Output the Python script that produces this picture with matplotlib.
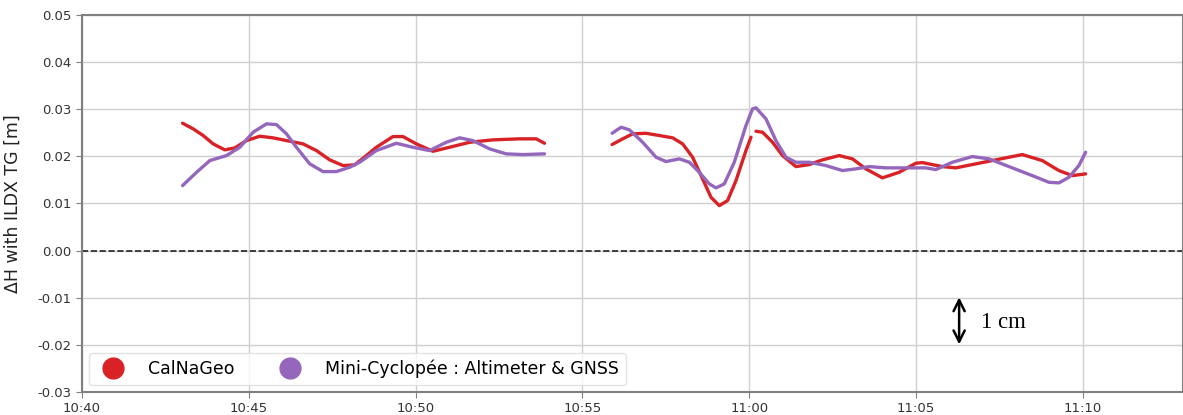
import matplotlib
matplotlib.use('Agg')
import matplotlib.pyplot as plt
import matplotlib.dates as mdates
from matplotlib.lines import Line2D
import pandas as pd
import numpy as np

# minutes after 10:40, height difference [m]; NaN marks a data gap
cal_t = [3.015, 3.332, 3.632, 3.931, 4.281, 4.581, 4.931, 5.329, 5.728, 6.129, 6.626, 7.027,
         7.425, 7.823, 8.174, 8.524, 8.823, 9.320, 9.620, 10.021, 10.518, 11.018, 11.617,
         12.314, 13.114, 13.614, 13.862, 14.9,
         15.889, 16.207, 16.506, 16.907, 17.305, 17.704, 18.003, 18.302, 18.602, 18.853,
         19.102, 19.350, 19.602, 19.901, 20.051, 20.12,
         20.201, 20.398, 20.698, 20.997, 21.398, 21.796, 22.195, 22.695, 23.093, 23.494,
         23.991, 24.491, 24.991, 25.189, 25.787, 26.189, 26.787, 27.386, 28.183, 28.781,
         29.281, 29.680, 30.081]
cal_h = [0.02703, 0.02584, 0.02442, 0.02265, 0.02138, 0.02180, 0.02335, 0.02427, 0.02393,
         0.02335, 0.02265, 0.02123, 0.01926, 0.01805, 0.01820, 0.02017, 0.02193, 0.02420,
         0.02420, 0.02265, 0.02108, 0.02193, 0.02299, 0.02350, 0.02372, 0.02372, 0.02278,
         np.nan,
         0.02251, 0.02372, 0.02478, 0.02490, 0.02442, 0.02393, 0.02265, 0.01981, 0.01522,
         0.01132, 0.00955, 0.01062, 0.01486, 0.02123, 0.02406, np.nan,
         0.02533, 0.02512, 0.02299, 0.02017, 0.01783, 0.01826, 0.01926, 0.02017, 0.01947,
         0.01735, 0.01544, 0.01662, 0.01854, 0.01868, 0.01783, 0.01756, 0.01841, 0.01926,
         0.02038, 0.01911, 0.01699, 0.01592, 0.01628]

mini_t = [3.015, 3.434, 3.832, 4.332, 4.731, 5.129, 5.530, 5.829, 6.129, 6.428, 6.826, 7.225,
          7.626, 8.024, 8.323, 8.823, 9.422, 9.919, 10.419, 10.919, 11.317, 11.716, 12.216,
          12.716, 13.213, 13.862, 14.9,
          15.889, 16.159, 16.407, 16.805, 17.207, 17.506, 17.904, 18.204, 18.503, 18.802,
          19.003, 19.251, 19.551, 19.901, 20.099, 20.201, 20.500, 20.799, 21.099, 21.398,
          21.796, 22.296, 22.794, 23.195, 23.593, 24.093, 24.692, 25.290, 25.590, 26.087,
          26.686, 27.186, 27.784, 28.482, 28.982, 29.281, 29.581, 29.880, 30.081]
mini_h = [0.01380, 0.01662, 0.01911, 0.02017, 0.02193, 0.02512, 0.02690, 0.02675, 0.02478,
          0.02193, 0.01841, 0.01677, 0.01677, 0.01769, 0.01875, 0.02123, 0.02278, 0.02193,
          0.02123, 0.02299, 0.02393, 0.02335, 0.02159, 0.02053, 0.02038, 0.02053, np.nan,
          0.02490, 0.02618, 0.02563, 0.02299, 0.01981, 0.01890, 0.01947, 0.01875, 0.01662,
          0.01416, 0.01331, 0.01416, 0.01875, 0.02654, 0.03008, 0.03030, 0.02796, 0.02335,
          0.01981, 0.01875, 0.01875, 0.01805, 0.01699, 0.01735, 0.01783, 0.01756, 0.01756,
          0.01756, 0.01720, 0.01875, 0.01996, 0.01947, 0.01783, 0.01592, 0.01450, 0.01437,
          0.01556, 0.01805, 0.02087]

labels = ['CalNaGeo', 'Mini-Cyclopée : Altimeter & GNSS']
colors = ['#d92226', '#9467bd']

t0 = pd.Timestamp('2021-01-01 10:40')


def to_time(minutes):
    return t0 + pd.to_timedelta(np.array(minutes), unit='m')


fig = plt.figure(figsize=(11.83, 4.15), dpi=100)
ax = fig.add_axes([0.0693, 0.0554, 0.9307, 0.9085])

ax.plot(to_time(cal_t), cal_h, color=colors[0], lw=2.4, solid_capstyle='round',
        solid_joinstyle='round')
ax.plot(to_time(mini_t), mini_h, color=colors[1], lw=2.4, solid_capstyle='round',
        solid_joinstyle='round')
ax.axhline(0, color='#222222', ls='--', lw=1.2)

ax.set_xlim(t0, t0 + pd.Timedelta(minutes=33))
ax.set_ylim(-0.03, 0.05)
ax.xaxis.set_major_locator(mdates.MinuteLocator(byminute=range(0, 60, 5)))
ax.xaxis.set_major_formatter(mdates.DateFormatter('%H:%M'))
ax.set_yticks(np.arange(-0.03, 0.051, 0.01))
ax.yaxis.set_major_formatter(matplotlib.ticker.FormatStrFormatter('%.2f'))
ax.grid(True, color='#d0d0d0', lw=1)
ax.tick_params(labelsize=9.5, colors='#333333', length=4, color='#808080')
for s in ax.spines.values():
    s.set_color('#808080')
    s.set_linewidth(1.5)
ax.set_ylabel('ΔH with ILDX TG [m]', fontsize=12.5, color='#222222')
ax.yaxis.set_label_coords(-0.055, 0.5)

# 1 cm scale arrow
ax.annotate('', xy=(t0 + pd.Timedelta(minutes=26.29), -0.0099),
            xytext=(t0 + pd.Timedelta(minutes=26.29), -0.0199),
            arrowprops=dict(arrowstyle='<->', lw=1.8, color='black', mutation_scale=20,
                            shrinkA=0, shrinkB=0))
ax.text(t0 + pd.Timedelta(minutes=26.95), -0.0152, '1 cm', fontsize=16.5,
        family='Liberation Serif', va='center')

handles = [Line2D([], [], marker='o', ls='', markersize=15, color=c) for c in colors]
ax.legend(handles, labels, loc='lower left', ncol=2, fontsize=12.5, frameon=True,
          edgecolor='#dddddd', handletextpad=1.0, columnspacing=2.2, borderaxespad=0.4)

fig.savefig('out.png', dpi=100)
